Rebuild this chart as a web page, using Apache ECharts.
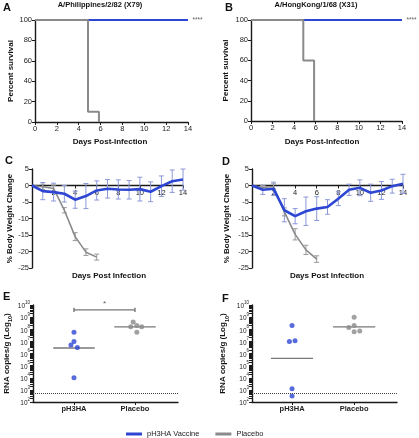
<!DOCTYPE html>
<html><head><meta charset="utf-8">
<script src="https://cdn.jsdelivr.net/npm/echarts@6/dist/echarts.min.js"></script>
<style>html,body{margin:0;padding:0;background:#fff}#c{width:419px;height:438px}</style>
</head><body><div id="c"></div>
<script>
// ---------- DATA ----------
// Panels A/B: survival (%)
const survDays = [0, 14];
const vaccineSurvA = [100, 100];
const placeboSurvDaysA = [0, 4.85, 5.85];
const placeboSurvA = [100, 10, 0];
const vaccineSurvB = [100, 100];
const placeboSurvDaysB = [0, 4.85, 5.85];
const placeboSurvB = [100, 60, 0];
const survSig = '****';

// Panels C/D: % body weight change
const days = [0,1,2,3,4,5,6,7,8,9,10,11,12,13,14];
const vacWeightC = [0,-1.7,-2.0,-2.5,-4.3,-3.2,-1.5,-1.0,-1.2,-1.3,-1.1,-1.9,-0.2,1.3,1.8];
const vacErrC    = [0, 2.6, 2.7, 2.5, 2.6, 3.8, 2.9, 2.8, 2.9, 2.8, 3.6, 3.0, 3.1, 3.4, 3.2];
const plaWeightC = [0,-0.4,-0.9,-7.5,-15.5,-20.2,-21.7];
const plaErrC    = [0, 0.8, 1.0, 0.8, 1.2, 1.0, 0.9];
const vacWeightD = [0,-1.3,-1.0,-7.5,-9.3,-7.8,-7.0,-6.5,-4.0,-1.3,-0.7,-2.2,-1.5,-0.2,0.5];
const vacErrD    = [0, 1.4, 2.0, 3.5, 2.3, 4.3, 3.6, 2.2, 2.1, 1.7, 2.4, 2.6, 2.7, 2.1, 2.9];
const plaWeightD = [0,-0.6,-0.3,-8.0,-14.8,-19.5,-22.3];
const plaErrD    = [0, 0.6, 0.8, 1.2, 1.7, 1.4, 1.0];
const wtMin = -25, wtMax = 5;

// Panels E/F: RNA copies/g, log10
const groups = ['pH3HA', 'Placebo'];
const vacPosE = [1, 1, 0.95, 1.055, 1];
const vacLogE = [7.75, 7.0, 6.7, 6.5, 4.0];
const plaPosE = [1.97, 1.93, 2.03, 2.11, 2.03];
const plaLogE = [8.6, 8.2, 8.3, 8.2, 7.75];
const meanLogE = [6.45, 8.2];
const vacPosF = [1, 0.957, 1.048, 1, 1];
const vacLogF = [8.3, 7.0, 7.05, 3.1, 2.5];
const plaPosF = [2, 1.914, 2, 2, 2.09];
const plaLogF = [9.0, 8.15, 8.3, 7.8, 7.85];
const meanLogF = [5.6, 8.2];
const limitLog = 2.7;
const sigBracketLogE = 9.6;
const sigE = '*';
const logTickExps = [2,3,4,5,6,7,8,9,10];

// ---------- STYLE ----------
const FONT = "'Liberation Sans', Arial, Helvetica, sans-serif";
const BLUE = '#2d46d3';
const GRAY = '#8a8a8a';
const BLUE_ERR = '#8c98d9';
const GRAY_ERR = '#9a9a9a';
const INK = '#1a1a1a';

const zip = (a, b) => a.map((v, i) => [v, b[i]]);
const axisLine = {show: true, onZero: false, lineStyle: {color: INK, width: 1.4}};
const axisTick = {show: true, length: 3, lineStyle: {color: INK, width: 1}};
const tickLabel = {fontFamily: FONT, fontSize: 7.5, color: '#222', margin: 3};
const nameStyle = {fontFamily: FONT, fontSize: 8, fontWeight: 'bold', color: '#111'};

const grids = [
  {left: 35, top: 20, width: 153, height: 102},
  {left: 251, top: 20, width: 151, height: 101},
  {left: 32, top: 169, width: 151, height: 99},
  {left: 252, top: 169, width: 151, height: 99},
  {left: 33, top: 305, width: 145, height: 97},
  {left: 252, top: 305, width: 145, height: 97}
];

function survX(g) {
  return {type: 'value', gridIndex: g, min: 0, max: 14, interval: 2, axisLine, axisTick,
    axisLabel: tickLabel, splitLine: {show: false}};
}
function survY(g, gap) {
  return {type: 'value', gridIndex: g, min: 0, max: 100, interval: 20, axisLine, axisTick,
    axisLabel: tickLabel, splitLine: {show: false},
    name: 'Percent survival', nameLocation: 'middle', nameGap: gap, nameTextStyle: nameStyle};
}
function wtX(g) {
  // x axis crosses the y axis at 0: shift it up from the grid bottom by the scale position of 0
  const shift = grids[g].height * (0 - wtMin) / (wtMax - wtMin);
  return {type: 'value', gridIndex: g, min: 0, max: 14, interval: 2, offset: -shift,
    axisLine, axisTick,
    axisLabel: Object.assign({}, tickLabel, {formatter: v => v === 0 ? '' : String(v)}),
    splitLine: {show: false}};
}
function wtY(g, gap) {
  return {type: 'value', gridIndex: g, min: wtMin, max: wtMax, interval: 5, axisLine, axisTick,
    axisLabel: tickLabel, splitLine: {show: false},
    name: '% Body Weight Change', nameLocation: 'middle', nameGap: gap, nameTextStyle: nameStyle};
}
function rnaX(g, min, max) {
  return {type: 'value', gridIndex: g, min, max, axisLine,
    axisTick: Object.assign({}, axisTick, {customValues: [1, 2]}),
    axisLabel: Object.assign({}, tickLabel, {customValues: [1, 2], fontWeight: 'bold', fontSize: 7.5,
      formatter: v => groups[Math.round(v) - 1]}),
    splitLine: {show: false}};
}
const minorLog = [];
logTickExps.forEach(e => { for (let k = 1; k <= 9; k++) { const v = e + Math.log10(k); if (v <= 10) minorLog.push(v); } });
function rnaY(g, gap) {
  return {type: 'value', gridIndex: g, min: 2, max: 10, interval: 1, axisLine,
    axisTick: {show: true, length: 3, customValues: minorLog, lineStyle: {color: INK, width: 1}},
    axisLabel: {margin: 3, formatter: v => '{b|10}{s|' + v + '}',
      rich: {b: {fontFamily: FONT, fontSize: 6.5, color: '#222', verticalAlign: 'bottom', lineHeight: 10},
             s: {fontFamily: FONT, fontSize: 4.5, color: '#222', verticalAlign: 'top', lineHeight: 6}}},
    splitLine: {show: false},
    name: '{a|RNA copies/g (Log}{u|10}{a|)}', nameLocation: 'middle', nameGap: gap,
    nameTextStyle: {rich: {a: {fontFamily: FONT, fontSize: 8, fontWeight: 'bold', color: '#111', lineHeight: 11, verticalAlign: 'top'},
                           u: {fontFamily: FONT, fontSize: 5.5, fontWeight: 'bold', color: '#111', lineHeight: 6, verticalAlign: 'bottom'}}}};
}

function errSeries(idx, ys, errs, color) {
  const data = [];
  for (let i = 1; i < ys.length; i++) data.push([days[i], ys[i] - errs[i], ys[i] + errs[i]]);
  return {type: 'custom', name: 'err', xAxisIndex: idx, yAxisIndex: idx, data, z: 1, silent: true,
    encode: {x: 0, y: [1, 2]},
    renderItem: (params, api) => {
      const x = api.value(0);
      const lo = api.coord([x, api.value(1)]);
      const hi = api.coord([x, api.value(2)]);
      const w = 2.5, st = {stroke: color, lineWidth: 1};
      return {type: 'group', children: [
        {type: 'line', shape: {x1: lo[0], y1: lo[1], x2: hi[0], y2: hi[1]}, style: st},
        {type: 'line', shape: {x1: lo[0] - w, y1: lo[1], x2: lo[0] + w, y2: lo[1]}, style: st},
        {type: 'line', shape: {x1: hi[0] - w, y1: hi[1], x2: hi[0] + w, y2: hi[1]}, style: st}
      ]};
    }};
}
function survSeries(idx, vac, plaDays, pla) {
  return [
    {type: 'line', name: 'pH3HA Vaccine', xAxisIndex: idx, yAxisIndex: idx, data: zip(survDays, vac),
      symbol: 'none', lineStyle: {width: 2, color: BLUE}, itemStyle: {color: BLUE}, z: 2},
    {type: 'line', name: 'Placebo', xAxisIndex: idx, yAxisIndex: idx, data: zip(plaDays, pla), step: 'end',
      symbol: 'none', lineStyle: {width: 2, color: GRAY}, itemStyle: {color: GRAY}, z: 3},
    {type: 'scatter', name: 'sig', xAxisIndex: idx, yAxisIndex: idx, data: [[survDays[1], vac[1]]],
      symbolSize: 1, itemStyle: {color: 'rgba(0,0,0,0)'}, silent: true,
      label: {show: true, position: 'right', distance: 4, formatter: survSig, fontFamily: FONT, fontSize: 6.5, color: '#333'}}
  ];
}
function wtSeries(idx, vac, vErr, pla, pErr) {
  return [
    errSeries(idx, vac, vErr, BLUE_ERR),
    errSeries(idx, pla, pErr, GRAY_ERR),
    {type: 'line', name: 'Placebo', xAxisIndex: idx, yAxisIndex: idx, data: zip(days.slice(0, pla.length), pla),
      symbol: 'none', lineStyle: {width: 1.6, color: GRAY}, itemStyle: {color: GRAY}, z: 2},
    {type: 'line', name: 'pH3HA Vaccine', xAxisIndex: idx, yAxisIndex: idx, data: zip(days, vac),
      symbol: 'none', lineStyle: {width: 2.6, color: BLUE}, itemStyle: {color: BLUE}, z: 3}
  ];
}
function rnaSeries(idx, vPos, vLog, pPos, pLog, means, withSig) {
  const s = [
    {type: 'scatter', name: 'pH3HA Vaccine', xAxisIndex: idx, yAxisIndex: idx, data: zip(vPos, vLog),
      symbolSize: 5, itemStyle: {color: BLUE}, z: 3},
    {type: 'scatter', name: 'Placebo', xAxisIndex: idx, yAxisIndex: idx, data: zip(pPos, pLog),
      symbolSize: 5, itemStyle: {color: GRAY}, z: 3}
  ];
  means.forEach((m, i) => {
    s.push({type: 'line', name: 'mean', xAxisIndex: idx, yAxisIndex: idx,
      data: [[i + 1 - 0.34, m], [i + 1 + 0.34, m]], symbol: 'none', silent: true,
      lineStyle: {width: 1.4, color: '#777'}, z: 2,
      markLine: i === 0 ? {silent: true, symbol: 'none', label: {show: false},
        lineStyle: {type: 'dotted', color: '#444', width: 1}, data: [{yAxis: limitLog}]} : undefined});
  });
  if (withSig) {
    const c = 0.17;
    s.push({type: 'line', name: 'bracket', xAxisIndex: idx, yAxisIndex: idx, symbol: 'none', silent: true,
      data: [[1, withSig - c], [1, withSig + c], [1, withSig], [2, withSig], [2, withSig + c], [2, withSig - c]],
      lineStyle: {width: 1.4, color: '#777'}, z: 2});
    s.push({type: 'scatter', name: 'sig', xAxisIndex: idx, yAxisIndex: idx, data: [[1.5, withSig]],
      symbolSize: 1, itemStyle: {color: 'rgba(0,0,0,0)'}, silent: true,
      label: {show: true, position: 'top', distance: 2, formatter: sigE, fontFamily: FONT, fontSize: 8, color: '#333'}});
  }
  return s;
}

function txt(t, x, y, size, align) {
  return {type: 'text', x, y, silent: true,
    style: {text: t, fontFamily: FONT, fontSize: size, fontWeight: 'bold', fill: '#111',
      align: align || 'center', verticalAlign: 'middle'}};
}

const option = {
  animation: false,
  backgroundColor: '#fff',
  grid: grids,
  xAxis: [survX(0), survX(1), wtX(2), wtX(3), rnaX(4, 0.328, 2.705), rnaX(5, 0.355, 2.69)],
  yAxis: [survY(0, 20), survY(1, 21), wtY(2, 18), wtY(3, 21), rnaY(4, 19), rnaY(5, 22)],
  legend: {data: ['pH3HA Vaccine', 'Placebo'], left: 126, top: 430, padding: 0, icon: 'rect',
    itemWidth: 16, itemHeight: 3, itemGap: 16, selectedMode: false,
    textStyle: {fontFamily: FONT, fontSize: 7.5, color: '#222'}},
  graphic: [
    txt('A', 3, 8, 11, 'left'), txt('B', 225, 8, 11, 'left'),
    txt('C', 5, 161, 11, 'left'), txt('D', 222, 162, 11, 'left'),
    txt('E', 3, 297, 11, 'left'), txt('F', 222, 299, 11, 'left'),
    txt('A/Philippines/2/82 (X79)', 100, 5, 7.5),
    txt('A/HongKong/1/68 (X31)', 316, 5, 7.5),
    txt('Days Post-Infection', 110, 142, 8),
    txt('Days Post-Infection', 322, 142, 8),
    txt('Days Post Infection', 109, 276, 8),
    txt('Days Post Infection', 327, 276, 8)
  ],
  series: [].concat(
    survSeries(0, vaccineSurvA, placeboSurvDaysA, placeboSurvA),
    survSeries(1, vaccineSurvB, placeboSurvDaysB, placeboSurvB),
    wtSeries(2, vacWeightC, vacErrC, plaWeightC, plaErrC),
    wtSeries(3, vacWeightD, vacErrD, plaWeightD, plaErrD),
    rnaSeries(4, vacPosE, vacLogE, plaPosE, plaLogE, meanLogE, sigBracketLogE),
    rnaSeries(5, vacPosF, vacLogF, plaPosF, plaLogF, meanLogF, null)
  )
};
const chart = echarts.init(document.getElementById('c'), null, {renderer: 'canvas'});
chart.setOption(option);
</script>
</body></html>
